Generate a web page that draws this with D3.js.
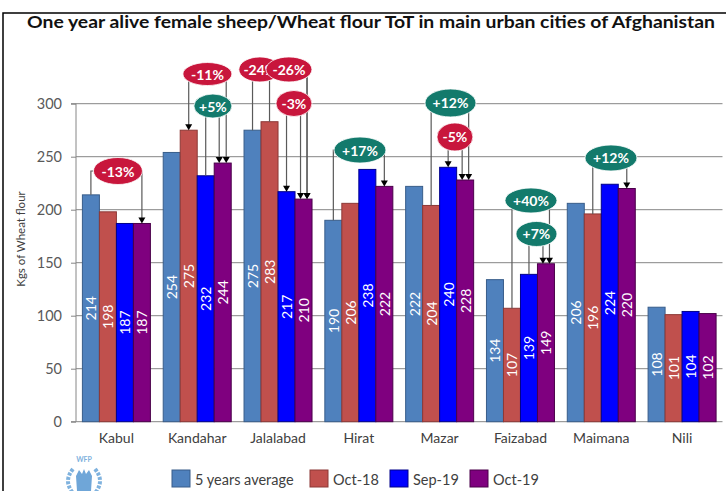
<!DOCTYPE html>
<html><head><meta charset="utf-8">
<script src="https://cdn.jsdelivr.net/npm/d3@7"></script>
<style>body{margin:0;background:#fff;} svg{display:block;font-family:Lato,"Open Sans",sans-serif;}</style>
</head><body><svg id="c" width="726" height="491"></svg>
<script>
const categories = ["Kabul","Kandahar","Jalalabad","Hirat","Mazar","Faizabad","Maimana","Nili"];
const seriesNames = ["5 years average","Oct-18","Sep-19","Oct-19"];
const avg5  = [214,254,275,190,222,134,206,108];
const oct18 = [198,275,283,206,204,107,196,101];
const sep19 = [187,232,217,238,240,139,224,104];
const oct19 = [187,244,210,222,228,149,220,102];
const yTicks = [0,50,100,150,200,250,300];
const title = "One year alive female sheep/Wheat flour ToT in main urban cities of Afghanistan";
const yTitle = "Kgs of Wheat flour";
// change callouts: label, category, from series index, to series index, level (value units)
const changes = [
  {label:"-13%", cat:"Kabul",     from:0, to:3, level:236.5, pos:0.519, rx:24.5, ry:13.5, tone:"neg", fromArrow:false, shift:0},
  {label:"-11%", cat:"Kandahar",  from:1, to:3, level:328,   pos:0.626, rx:24.5, ry:11.5, tone:"neg", fromArrow:true,  shift:3.5},
  {label:"+5%",  cat:"Kandahar",  from:2, to:3, level:297.8, pos:0.694, rx:19,   ry:12,   tone:"pos", fromArrow:false, shift:-3.5},
  {label:"-24%", cat:"Jalalabad", from:0, to:3, level:332.3, pos:0.275, rx:21,   ry:12.5, tone:"neg", fromArrow:false, shift:3.5},
  {label:"-26%", cat:"Jalalabad", from:1, to:3, level:332.3, pos:0.635, rx:23,   ry:12.5, tone:"neg", fromArrow:false, shift:3.5},
  {label:"-3%",  cat:"Jalalabad", from:2, to:3, level:300.2, pos:0.697, rx:18,   ry:13,   tone:"neg", fromArrow:true,  shift:-3},
  {label:"+17%", cat:"Hirat",     from:0, to:3, level:256.3, pos:0.514, rx:26,   ry:13,   tone:"pos", fromArrow:false, shift:0},
  {label:"+12%", cat:"Mazar",     from:1, to:3, level:300.7, pos:0.634, rx:25.5, ry:14,   tone:"pos", fromArrow:false, shift:3.5},
  {label:"-5%",  cat:"Mazar",     from:2, to:3, level:268.6, pos:0.689, rx:18,   ry:14,   tone:"neg", fromArrow:true,  shift:-3},
  {label:"+40%", cat:"Faizabad",  from:1, to:3, level:208.7, pos:0.630, rx:26,   ry:12.5, tone:"pos", fromArrow:false, shift:3.5},
  {label:"+7%",  cat:"Faizabad",  from:2, to:3, level:177.1, pos:0.698, rx:20.5, ry:12.5, tone:"pos", fromArrow:false, shift:-3},
  {label:"+12%", cat:"Maimana",   from:1, to:3, level:248.8, pos:0.620, rx:26,   ry:13,   tone:"pos", fromArrow:false, shift:0}
];

const values = [avg5, oct18, sep19, oct19];
const fills = ["#4F81BD","#C0504D","#0000FF","#7F007F"];
const strokes = ["#385D8A","#8C3836","#00008A","#4A004A"];
const toneFill = {neg:"#C8163C", pos:"#137A6C"};

const svg = d3.select("#c");
const x0 = d3.scaleBand().domain(categories).range([76, 722.5]);
const x1 = d3.scaleBand().domain(seriesNames).range([6.4, 74.4]);
const y = d3.scaleLinear().domain([0,300]).range([421.7,103.7]);

// frame
svg.append("path").attr("d","M3,491V13H726").attr("fill","none").attr("stroke","#000").attr("stroke-width",1.5);

// title
svg.append("text").attr("x",27).attr("y",27.5).attr("font-size",17).attr("font-weight","bold")
  .attr("fill","#111").attr("textLength",688).attr("lengthAdjust","spacingAndGlyphs").text(title);

// gridlines
svg.append("g").selectAll("line").data(yTicks.filter(d=>d>0)).join("line")
  .attr("x1",76).attr("x2",722.5).attr("y1",d=>y(d)).attr("y2",d=>y(d))
  .attr("stroke","#868686").attr("stroke-width",1);

// y axis
const ya = svg.append("g").attr("transform","translate(76,0)")
  .call(d3.axisLeft(y).tickValues(yTicks).tickSize(5).tickPadding(9));
ya.select(".domain").attr("stroke","#868686").attr("d","M-5,103.7H0V421.7H-5");
ya.selectAll(".tick line").attr("stroke","#868686");
ya.selectAll(".tick text").attr("font-size",14.5).attr("fill","#595959").attr("font-family","Lato,sans-serif");

// x axis line
svg.append("line").attr("x1",76).attr("x2",722.5).attr("y1",y(0)).attr("y2",y(0)).attr("stroke","#868686");

// y title
svg.append("text").attr("transform","translate(25,239) rotate(-90)").attr("text-anchor","middle")
  .attr("font-size",11.5).attr("fill","#404040").text(yTitle);

// x labels
svg.append("g").selectAll("text").data(categories).join("text")
  .attr("x",d=>x0(d)+x0.bandwidth()/2).attr("y",443).attr("text-anchor","middle")
  .attr("font-size",14).attr("fill","#404040").text(d=>d);

// bars
const groups = svg.append("g").selectAll("g").data(categories).join("g")
  .attr("transform",d=>`translate(${x0(d)},0)`);
groups.selectAll("rect").data((c,i)=>seriesNames.map((s,k)=>({s,k,v:values[k][i]}))).join("rect")
  .attr("x",d=>x1(d.s)).attr("width",x1.bandwidth()).attr("y",d=>y(d.v)).attr("height",d=>y(0)-y(d.v))
  .attr("fill",d=>fills[d.k]).attr("stroke",d=>strokes[d.k]).attr("stroke-width",1);
groups.selectAll("text").data((c,i)=>seriesNames.map((s,k)=>({s,k,v:values[k][i]}))).join("text")
  .attr("transform",d=>`translate(${x1(d.s)+x1.bandwidth()/2},${(y(d.v)+y(0))/2}) rotate(-90)`)
  .attr("text-anchor","middle").attr("dominant-baseline","central")
  .attr("font-size",14).attr("fill","#fff").text(d=>d.v);

// callouts
const ci = c => categories.indexOf(c);
const barC = (c,k) => x0(c)+x1(seriesNames[k])+x1.bandwidth()/2;
const cl = svg.append("g");
changes.forEach(a=>{
  const i = ci(a.cat);
  const fx = barC(a.cat,a.from), ft = y(values[a.from][i]);
  const tx = barC(a.cat,a.to)+a.shift, tt = y(values[a.to][i]);
  const ly = y(a.level);
  cl.append("path").attr("d",`M${fx},${ft-(a.fromArrow?5:0)}V${ly}H${tx}V${tt-5}`)
    .attr("fill","none").attr("stroke","#5a5a5a").attr("stroke-width",1.2);
  cl.append("path").attr("d",`M${tx-3.5},${tt-6}L${tx+3.5},${tt-6}L${tx},${tt}Z`).attr("fill","#000");
  if(a.fromArrow) cl.append("path").attr("d",`M${fx-3.5},${ft-6}L${fx+3.5},${ft-6}L${fx},${ft}Z`).attr("fill","#000");
});
changes.forEach(a=>{
  const cx = x0(a.cat)+a.pos*x0.bandwidth(), cy = y(a.level);
  cl.append("ellipse").attr("cx",cx).attr("cy",cy).attr("rx",a.rx).attr("ry",a.ry)
    .attr("fill",toneFill[a.tone]).attr("stroke","#fff").attr("stroke-width",0.8);
  cl.append("text").attr("x",cx).attr("y",cy).attr("text-anchor","middle").attr("dominant-baseline","central")
    .attr("font-size",14).attr("font-weight","bold").attr("fill","#fff").text(a.label);
});

// legend
const legX = [172,310,390,470];
const leg = svg.append("g").selectAll("g").data(seriesNames).join("g")
  .attr("transform",(d,k)=>`translate(${legX[k]},470)`);
leg.append("rect").attr("width",18).attr("height",17).attr("fill",(d,k)=>fills[k]).attr("stroke",(d,k)=>strokes[k]);
leg.append("text").attr("x",23).attr("y",9).attr("dominant-baseline","central")
  .attr("font-size",14.5).attr("fill","#404040").text(d=>d);

// WFP logo (approximation)
const logo = svg.append("g").attr("transform","translate(84,477)").attr("fill","none").attr("stroke","#7FB2DE");
logo.append("text").attr("x",0).attr("y",-15).attr("text-anchor","middle").attr("font-size",7)
  .attr("font-weight","bold").attr("fill","#7FB2DE").attr("stroke","none").text("WFP");
logo.append("path").attr("d","M-11,-8 Q-21,4 -11,16").attr("stroke-width",4).attr("stroke-dasharray","3,1.5");
logo.append("path").attr("d","M11,-8 Q21,4 11,16").attr("stroke-width",4).attr("stroke-dasharray","3,1.5");
logo.append("path").attr("d","M-7,14 L-8,-1 L-5,-7 L-2,-3 L0,-8 L2,-3 L5,-7 L8,-1 L7,14 Z").attr("fill","#6FA6D8").attr("stroke","none");
</script></body></html>
